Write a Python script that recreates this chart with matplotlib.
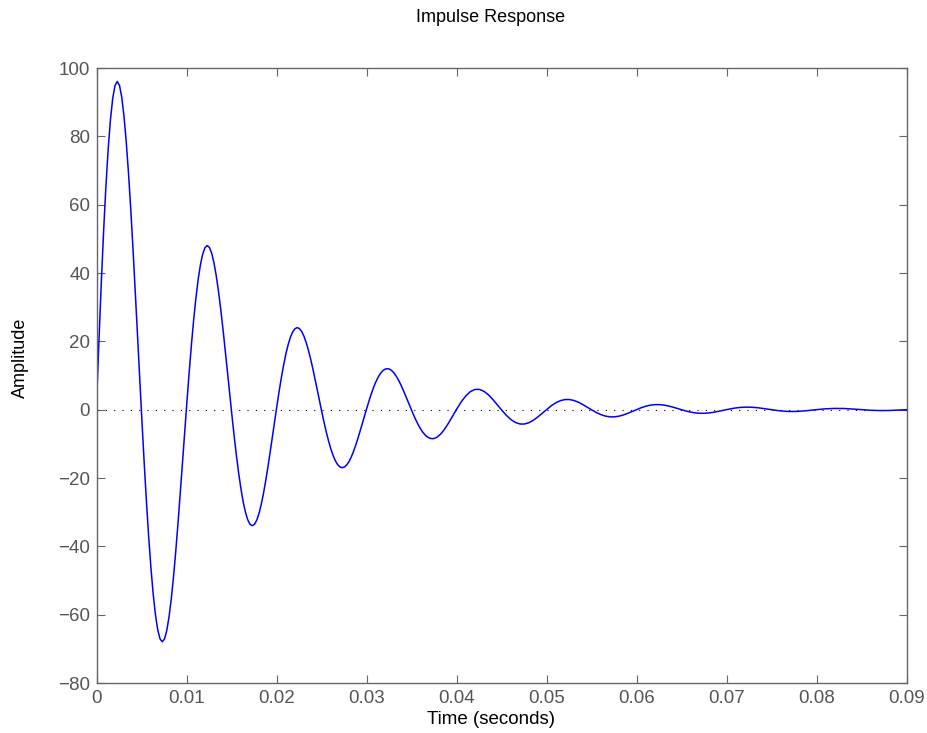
import numpy as np
import matplotlib
matplotlib.use('Agg')
import matplotlib.pyplot as plt

plt.rcParams['font.family'] = ['Liberation Sans', 'DejaVu Sans']

# Impulse response samples.
# First 40 ms at 0.25 ms steps, where the swings are big.
t_fine = np.linspace(0, 0.03975, 160)
y_fine = [4.97, 22.18, 38.26, 52.86, 65.66, 76.43, 84.95, 91.10, 94.81, 96.06,
          94.93, 91.51, 85.96, 78.50, 69.36, 58.85, 47.24, 34.88, 22.08, 9.18,
          -3.51, -15.68, -27.05, -37.38, -46.43, -54.04, -60.07, -64.42, -67.04, -67.93,
          -67.13, -64.71, -60.78, -55.51, -49.05, -41.61, -33.40, -24.66, -15.61, -6.49,
          2.49, 11.09, 19.13, 26.43, 32.83, 38.22, 42.48, 45.55, 47.41, 48.03,
          47.47, 45.76, 42.98, 39.25, 34.68, 29.43, 23.62, 17.44, 11.04, 4.59,
          -1.76, -7.84, -13.53, -18.69, -23.21, -27.02, -30.03, -32.21, -33.52, -33.96,
          -33.56, -32.35, -30.39, -27.75, -24.52, -20.81, -16.70, -12.33, -7.81, -3.25,
          1.24, 5.55, 9.57, 13.22, 16.42, 19.11, 21.24, 22.78, 23.70, 24.02,
          23.73, 22.88, 21.49, 19.63, 17.34, 14.71, 11.81, 8.72, 5.52, 2.30,
          -0.88, -3.92, -6.76, -9.34, -11.61, -13.51, -15.02, -16.10, -16.76, -16.98,
          -16.78, -16.18, -15.20, -13.88, -12.26, -10.40, -8.35, -6.17, -3.90, -1.62,
          0.62, 2.77, 4.78, 6.61, 8.21, 9.55, 10.62, 11.39, 11.85, 12.01,
          11.87, 11.44, 10.75, 9.81, 8.67, 7.36, 5.91, 4.36, 2.76, 1.15,
          -0.44, -1.96, -3.38, -4.67, -5.80, -6.76, -7.51, -8.05, -8.38, -8.49,
          -8.39, -8.09, -7.60, -6.94, -6.13, -5.20, -4.18, -3.08, -1.95, -0.81]

# The small tail from 40 ms to 90 ms at 0.5 ms steps.
t_coarse = np.linspace(0.04, 0.09, 101)
y_coarse = [0.31, 2.39, 4.10, 5.31, 5.93, 5.93, 5.37, 4.34, 2.95, 1.38,
            -0.22, -1.69, -2.90, -3.75, -4.19, -4.20, -3.80, -3.07, -2.09, -0.98,
            0.16, 1.20, 2.05, 2.65, 2.96, 2.97, 2.69, 2.17, 1.48, 0.69,
            -0.11, -0.85, -1.45, -1.88, -2.10, -2.10, -1.90, -1.53, -1.04, -0.49,
            0.08, 0.60, 1.03, 1.33, 1.48, 1.48, 1.34, 1.08, 0.74, 0.34,
            -0.05, -0.42, -0.73, -0.94, -1.05, -1.05, -0.95, -0.77, -0.52, -0.24,
            0.04, 0.30, 0.51, 0.66, 0.74, 0.74, 0.67, 0.54, 0.37, 0.17,
            -0.03, -0.21, -0.36, -0.47, -0.52, -0.52, -0.47, -0.38, -0.26, -0.12,
            0.02, 0.15, 0.26, 0.33, 0.37, 0.37, 0.34, 0.27, 0.18, 0.09,
            -0.01, -0.11, -0.18, -0.23, -0.26, -0.26, -0.24, -0.19, -0.13, -0.06,
            0.01]

x_ticks = [0, 0.01, 0.02, 0.03, 0.04, 0.05, 0.06, 0.07, 0.08, 0.09]
x_tick_labels = ['0', '0.01', '0.02', '0.03', '0.04', '0.05', '0.06', '0.07', '0.08', '0.09']
y_ticks = [-80, -60, -40, -20, 0, 20, 40, 60, 80, 100]

t = np.concatenate([t_fine, t_coarse])
y = np.concatenate([y_fine, y_coarse])

fig = plt.figure(figsize=(9.27, 7.33), dpi=100)
ax = fig.add_axes([0.1046, 0.0682, 0.8738, 0.839])

# zero reference line, then the response itself
ax.plot([0, 0.09], [0, 0], color='black', linestyle=(0, (1, 6.5)), linewidth=0.8)
ax.plot(t, y, color='#0000ff', linewidth=1.1)

ax.set_xlim(0, 0.09)
ax.set_ylim(-80, 100)
ax.set_xticks(x_ticks)
ax.set_xticklabels(x_tick_labels)
ax.set_yticks(y_ticks)

grey = '#666666'
for s in ax.spines.values():
    s.set_color(grey)
    s.set_linewidth(1.0)
ax.tick_params(direction='in', top=True, right=True, length=6, width=0.8,
               color=grey, labelcolor='#555555', labelsize=13.5)
ax.tick_params(axis='x', pad=5)
ax.tick_params(axis='y', pad=5)

fig.text(491 / 927, 1 - 18 / 733, 'Impulse Response', ha='center', va='center', fontsize=13)
fig.text(491 / 927, 1 - 720 / 733, 'Time (seconds)', ha='center', va='center', fontsize=13.5)
fig.text(20 / 927, 1 - 358 / 733, 'Amplitude', ha='center', va='center', rotation=90, fontsize=13)

fig.savefig('out.png', dpi=100)
